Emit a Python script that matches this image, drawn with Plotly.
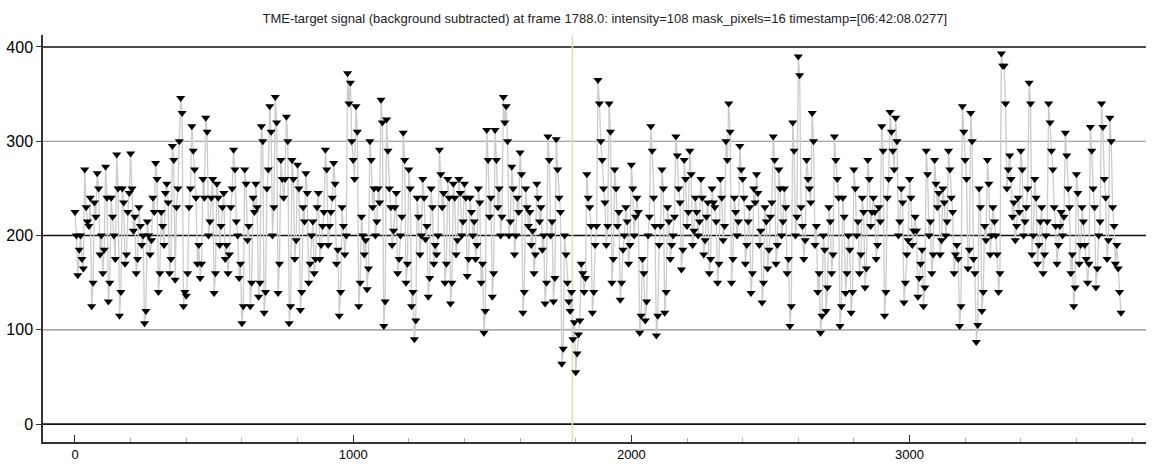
import plotly.graph_objects as go

# ---- data (one value per ~5 frames) ----
frame_step = 5
signal_values = [
    225, 200, 158, 185, 200, 175, 165, 270, 230, 215,
    210, 240, 125, 150, 235, 220, 266, 250, 180, 200,
    160, 185, 273, 240, 130, 150, 240, 220, 200, 175,
    286, 250, 115, 140, 250, 235, 170, 180, 225, 245,
    287, 250, 205, 220, 160, 175, 230, 210, 190, 200,
    107, 120, 215, 200, 180, 195, 240, 225, 277, 260,
    140, 160, 225, 210, 190, 245, 255, 235, 160, 175,
    295, 280, 153, 230, 250, 300, 346, 330, 125, 140,
    136, 160, 230, 250, 316, 290, 270, 240, 170, 190,
    155, 170, 260, 240, 325, 310, 200, 215, 240, 260,
    139, 160, 255, 240, 190, 210, 230, 245, 175, 190,
    160, 180, 230, 250, 291, 270, 215, 200, 155, 170,
    107, 125, 270, 255, 195, 210, 125, 150, 240, 225,
    255, 230, 135, 150, 316, 300, 118, 140, 250, 270,
    337, 310, 200, 230, 347, 320, 139, 170, 280, 260,
    240, 260, 326, 300, 107, 125, 280, 260, 175, 195,
    275, 250, 121, 140, 230, 215, 266, 245, 150, 170,
    200, 215, 160, 175, 230, 245, 175, 190, 210, 225,
    291, 270, 190, 210, 225, 240, 277, 255, 170, 185,
    115, 140, 230, 210, 180, 200, 372, 340, 362, 300,
    280, 260, 337, 310, 125, 150, 220, 200, 180, 195,
    143, 165, 300, 280, 230, 250, 200, 215, 250, 235,
    344, 320, 104, 130, 323, 290, 250, 230, 190, 205,
    230, 245, 160, 175, 200, 220, 309, 280, 150, 170,
    270, 250, 125, 140, 90, 110, 240, 220, 180, 200,
    260, 240, 196, 210, 135, 155, 250, 230, 170, 190,
    180, 200, 291, 265, 230, 245, 150, 170, 260, 240,
    128, 150, 255, 240, 180, 195, 260, 245, 200, 215,
    255, 240, 157, 175, 240, 225, 200, 215, 175, 190,
    250, 235, 150, 170, 97, 120, 312, 280, 220, 240,
    135, 160, 312, 280, 230, 250, 200, 220, 347, 320,
    337, 300, 200, 215, 273, 250, 180, 200, 240, 225,
    288, 265, 118, 140, 250, 230, 210, 225, 190, 205,
    160, 180, 255, 240, 215, 230, 185, 200, 128, 150,
    305, 280, 200, 215, 130, 155, 302, 270, 240, 225,
    64, 80, 200, 180, 150, 130, 120, 140, 90, 108,
    55, 75, 95, 110, 170, 160, 140, 155, 265, 240,
    230, 210, 118, 140, 190, 210, 365, 340, 300, 280,
    250, 235, 190, 210, 340, 310, 150, 175, 270, 250,
    210, 225, 132, 150, 185, 200, 230, 215, 170, 190,
    275, 250, 200, 220, 240, 225, 97, 115, 175, 160,
    110, 130, 200, 220, 316, 290, 240, 210, 94, 115,
    190, 210, 270, 250, 118, 140, 230, 215, 175, 190,
    200, 220, 305, 285, 250, 235, 164, 185, 280, 260,
    210, 225, 290, 265, 190, 205, 240, 225, 200, 215,
    260, 240, 180, 195, 220, 235, 160, 175, 250, 235,
    230, 215, 150, 170, 260, 240, 195, 210, 300, 280,
    340, 310, 150, 175, 240, 225, 200, 215, 295, 270,
    260, 240, 170, 190, 215, 230, 139, 160, 250, 235,
    265, 245, 190, 205, 129, 150, 230, 215, 165, 185,
    220, 235, 305, 280, 170, 190, 270, 250, 200, 215,
    250, 230, 160, 175, 104, 125, 320, 290, 200, 220,
    390, 370, 230, 210, 175, 195, 280, 260, 250, 235,
    330, 300, 190, 210, 140, 160, 97, 115, 200, 185,
    120, 145, 230, 215, 160, 180, 305, 280, 260, 240,
    104, 125, 240, 220, 139, 160, 200, 185, 118, 140,
    270, 250, 200, 215, 160, 180, 240, 225, 145, 165,
    280, 260, 210, 225, 240, 225, 175, 190, 230, 215,
    316, 290, 115, 140, 240, 260, 331, 310, 290, 270,
    325, 300, 200, 215, 250, 235, 129, 150, 180, 195,
    260, 240, 190, 205, 220, 205, 135, 155, 170, 185,
    125, 145, 290, 265, 200, 215, 160, 180, 280, 255,
    230, 245, 180, 195, 250, 235, 200, 215, 290, 270,
    240, 225, 160, 180, 190, 175, 104, 125, 337, 310,
    280, 260, 165, 185, 330, 300, 175, 160, 87, 105,
    250, 230, 120, 140, 210, 195, 280, 255, 180, 200,
    230, 215, 200, 180, 140, 160, 393, 380, 380, 340,
    250, 270, 285, 260, 220, 235, 195, 210, 240, 225,
    290, 270, 200, 215, 230, 250, 362, 340, 180, 200,
    260, 240, 170, 190, 215, 230, 160, 180, 200, 215,
    340, 320, 290, 270, 230, 210, 170, 190, 210, 225,
    200, 220, 309, 285, 250, 230, 160, 180, 125, 145,
    265, 245, 170, 190, 230, 215, 190, 175, 150, 170,
    315, 290, 250, 230, 145, 165, 200, 215, 340, 315,
    260, 240, 175, 195, 325, 300, 230, 210, 170, 190,
    165, 140, 118,
]
frames = [i * frame_step for i in range(len(signal_values))]

current_frame = 1788
title_text = ("TME-target signal (background subtracted) at frame 1788.0: intensity=108 "
              "mask_pixels=16 timestamp=[06:42:08.0277]")

x_ticks = [0, 1000, 2000, 3000]
y_ticks = [0, 100, 200, 300, 400]
strong_grid = [0, 200, 400]
light_grid = [100, 300]

fig = go.Figure()
fig.add_trace(go.Scatter(
    x=frames, y=signal_values, mode="lines+markers",
    line=dict(color="#cccccc", width=1.3),
    marker=dict(symbol="triangle-down", color="black", size=8, line=dict(width=0)),
    showlegend=False, hoverinfo="skip",
))

shapes = []
for v in strong_grid:
    shapes.append(dict(type="line", xref="paper", yref="y", x0=0, x1=1, y0=v, y1=v,
                       line=dict(color="#111111", width=1.6), layer="below"))
for v in light_grid:
    shapes.append(dict(type="line", xref="paper", yref="y", x0=0, x1=1, y0=v, y1=v,
                       line=dict(color="#8a8a8a", width=1.2), layer="below"))
shapes.append(dict(type="line", xref="x", yref="paper", x0=current_frame, x1=current_frame,
                   y0=0, y1=1, line=dict(color="#dfe0a8", width=1.5), layer="below"))

fig.update_layout(
    width=1152, height=468,
    margin=dict(l=41, r=6, t=35, b=25),
    paper_bgcolor="white", plot_bgcolor="white",
    font=dict(family="Liberation Sans, Arial, sans-serif", color="black"),
    title=dict(text=title_text, x=0.525, xanchor="center", y=0.96, yanchor="middle",
               font=dict(size=13, color="#222222")),
    shapes=shapes,
    xaxis=dict(range=[-115, 3850], tickvals=x_ticks, ticks="inside", ticklen=7,
               tickcolor="#333333", showgrid=False, zeroline=False,
               showline=True, linecolor="#333333", linewidth=1.5,
               tickfont=dict(size=13),
               minor=dict(dtick=200, ticks="inside", ticklen=4, tickcolor="#aaaaaa", showgrid=False)),
    yaxis=dict(range=[-19, 412.7], tickvals=y_ticks, ticks="outside", ticklen=5,
               tickcolor="#333333", showgrid=False, zeroline=False,
               showline=True, linecolor="#333333", linewidth=1.5,
               tickfont=dict(size=16)),
)

fig.write_html("out.html", config={"displayModeBar": False})

# remove the default page margin so the figure sits at the window's top-left corner
with open("out.html", "r", encoding="utf-8") as fh:
    html = fh.read()
html = html.replace("<head>", "<head><style>html,body{margin:0;padding:0;}</style>", 1)
with open("out.html", "w", encoding="utf-8") as fh:
    fh.write(html)
